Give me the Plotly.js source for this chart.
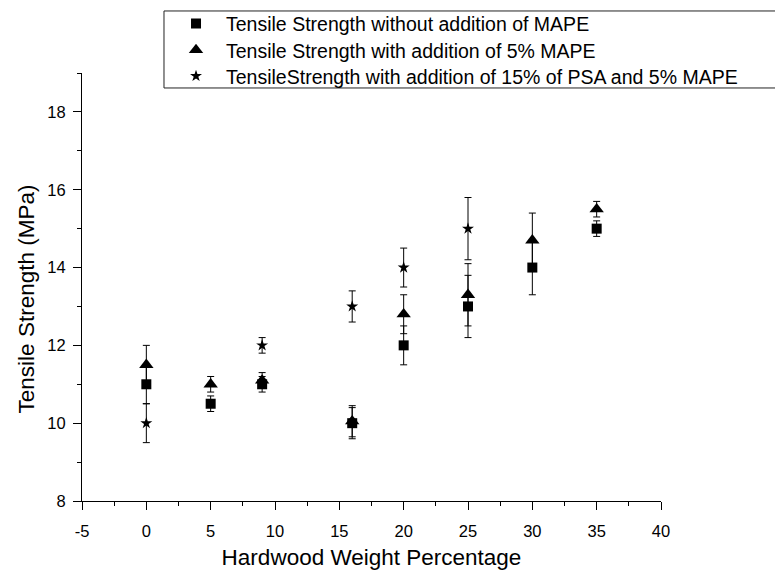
<!DOCTYPE html>
<html>
<head>
<meta charset="utf-8">
<script src="https://cdn.plot.ly/plotly-3.0.1.min.js"></script>
<style>html,body{margin:0;padding:0;background:#fff;overflow:hidden;}#chart{width:775px;height:570px;}</style>
</head>
<body>
<div id="chart"></div>
<script>
// Data
const hardwood = [0, 5, 9, 16, 20, 25, 30, 35];
const noMape = [11, 10.5, 11, 10, 12, 13, 14, 15];
const noMapeErr = [0.5, 0.2, 0.2, 0.4, 0.5, 0.8, 0.7, 0.2];
const mape5 = [11.5, 11, 11.1, 10.05, 12.8, 13.3, 14.7, 15.5];
const mape5Err = [0.5, 0.2, 0.2, 0.4, 0.5, 0.8, 0.7, 0.2];
const hardwoodPsa = [0, 9, 16, 20, 25];
const psaMape = [10, 12, 13, 14, 15];
const psaMapeErr = [0.5, 0.2, 0.4, 0.5, 0.8];
const names = [
  "Tensile Strength without addition of MAPE",
  "Tensile Strength with addition of 5% MAPE",
  "TensileStrength with addition of 15% of PSA and 5% MAPE"
];
const xTickVals = [-5, 0, 5, 10, 15, 20, 25, 30, 35, 40];
const xTickText = ["-5", "0", "5", "10", "15", "20", "25", "30", "35", "40"];
const xTitle = "Hardwood Weight Percentage";
const yTitle = "Tensile Strength (MPa)";

const font = "Liberation Sans, Arial, sans-serif";
const errStyle = (arr) => ({type: "data", array: arr, visible: true, color: "#000", thickness: 1, width: 3.5});

const traces = [
  {x: hardwood, y: mape5, name: names[1], mode: "markers", type: "scatter", legend: "legend2",
   marker: {symbol: "triangle-up", size: 12.5, color: "#000"}, error_y: errStyle(mape5Err)},
  {x: hardwood, y: noMape, name: names[0], mode: "markers", type: "scatter", legend: "legend",
   marker: {symbol: "square", size: 10, color: "#000"}, error_y: errStyle(noMapeErr)},
  {x: hardwoodPsa, y: psaMape, name: names[2], mode: "markers", type: "scatter", legend: "legend3",
   marker: {symbol: "star", size: 9, color: "#000"}, error_y: errStyle(psaMapeErr)}
];

const legendRow = (yPaper) => ({
  x: 0.1451, y: yPaper, xanchor: "left", yanchor: "middle",
  borderwidth: 0, bgcolor: "rgba(0,0,0,0)", itemwidth: 50,
  font: {family: font, size: 19.5, color: "#000"}
});

const layout = {
  width: 775, height: 570,
  margin: {l: 82, r: 114, t: 73, b: 69, pad: 0, autoexpand: false},
  paper_bgcolor: "#fff", plot_bgcolor: "#fff",
  font: {family: font, color: "#000", size: 16},
  showlegend: true,
  legend: legendRow(1.1149),
  legend2: legendRow(1.0530),
  legend3: legendRow(0.9922),
  shapes: [{
    type: "rect", xref: "paper", yref: "paper",
    x0: 0.1416, x1: 1.21, y0: 0.965, y1: 1.1449,
    line: {color: "#222", width: 1}, fillcolor: "rgba(0,0,0,0)", layer: "above"
  }],
  xaxis: {
    range: [-5, 40], tickmode: "array", tickvals: xTickVals, ticktext: xTickText,
    showgrid: false, zeroline: false,
    showline: true, linecolor: "#000", linewidth: 1,
    ticks: "outside", ticklen: 8, tickcolor: "#000", tickwidth: 1, ticklabelstandoff: 7,
    minor: {dtick: 2.5, tick0: 0, ticks: "outside", ticklen: 4, tickcolor: "#000", showgrid: false},
    tickfont: {family: font, size: 16.5, color: "#000"},
    title: {text: xTitle, font: {family: font, size: 22.5, color: "#000"}, standoff: 14}
  },
  yaxis: {
    range: [8, 19], tick0: 8, dtick: 2, showgrid: false, zeroline: false,
    showline: true, linecolor: "#000", linewidth: 1,
    ticks: "outside", ticklen: 8, tickcolor: "#000", tickwidth: 1, ticklabelstandoff: 4,
    minor: {dtick: 1, tick0: 8, ticks: "outside", ticklen: 4, tickcolor: "#000", showgrid: false},
    tickfont: {family: font, size: 16.5, color: "#000"}
  },
  annotations: [{
    text: yTitle, xref: "paper", yref: "paper", x: 0, y: 0.471,
    xanchor: "center", yanchor: "middle", xshift: -56, textangle: -90, showarrow: false,
    font: {family: font, size: 22.5, color: "#000"}
  }]
};

Plotly.newPlot("chart", traces, layout, {displayModeBar: false, staticPlot: true});
</script>
</body>
</html>
